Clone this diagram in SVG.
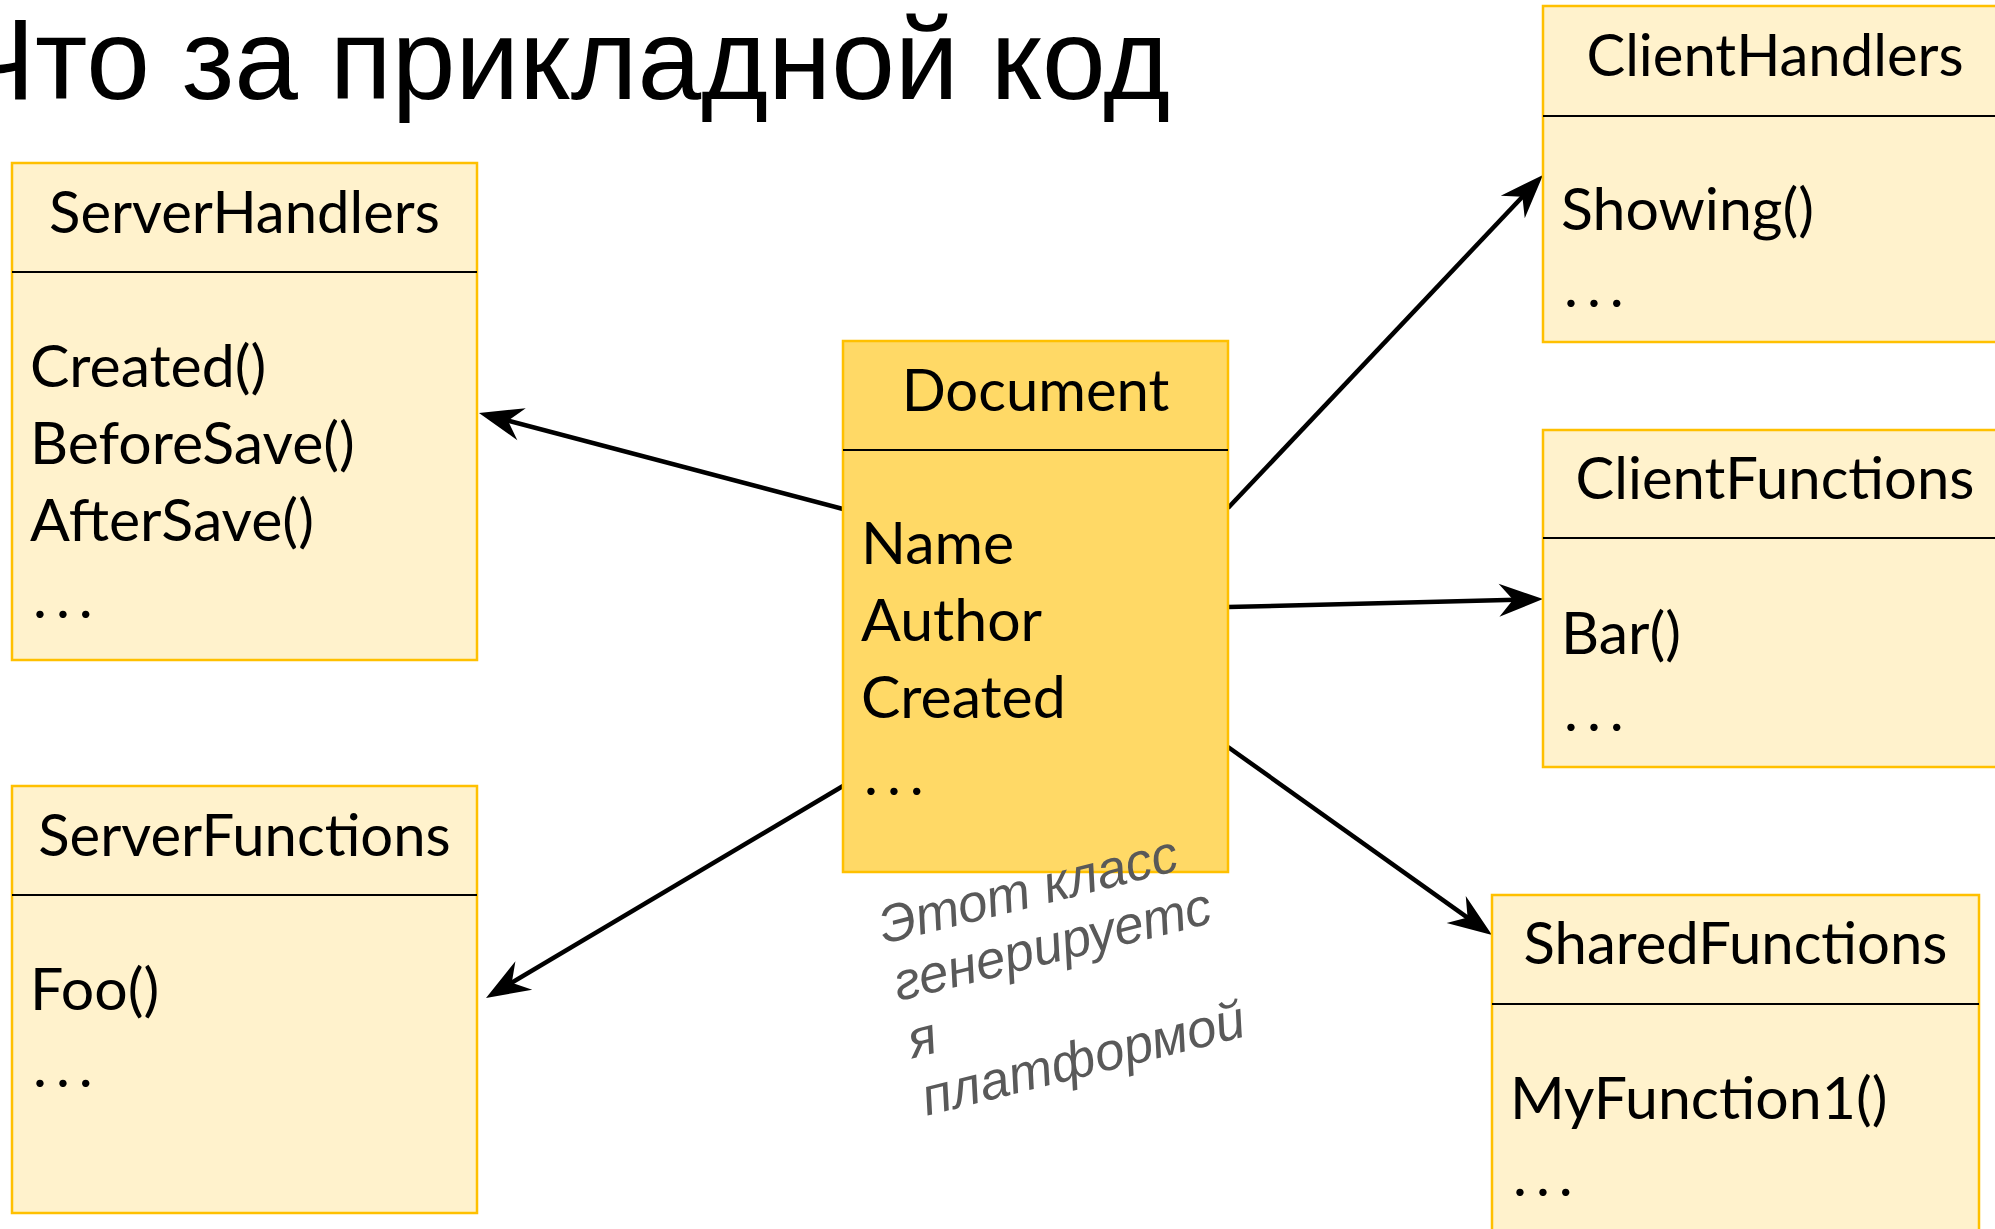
<svg xmlns="http://www.w3.org/2000/svg" width="1995" height="1229" viewBox="0 0 1995 1229">
<style>
.box{fill:#FFF2CC;stroke:#FFC000;stroke-width:2.5}
.doc{fill:#FFD966}
.sep{stroke:#000;stroke-width:2}
.t{font-family:Lato,"Open Sans",sans-serif;font-size:59px;fill:#000}
.h{text-anchor:middle;font-size:58px}
.d{letter-spacing:9px}
.conn{stroke:#000;stroke-width:4.5;fill:none;marker-end:url(#arr)}
.title{font-family:"Liberation Sans",Arial,sans-serif;font-size:114.5px;fill:#000}
.note{font-family:"Liberation Sans",Arial,sans-serif;font-size:53px;font-style:italic;fill:#595959}
</style>
<defs>
<marker id="arr" markerUnits="userSpaceOnUse" markerWidth="60" markerHeight="40" refX="0" refY="0" orient="auto" overflow="visible">
<path d="M15,0 L-29,-16.5 L-15,0 L-29,16.5 Z" fill="#000"/>
</marker>
</defs>
<rect width="1995" height="1229" fill="#fff"/>
<text class="title" x="1170" y="99" text-anchor="end">Что за прикладной код</text>

<g id="connectors">
<line class="conn" x1="843" y1="509" x2="493.5" y2="416.8"/>
<line class="conn" x1="843" y1="786" x2="498.9" y2="990.3"/>
<line class="conn" x1="1228" y1="508" x2="1532.7" y2="185.9"/>
<line class="conn" x1="1228" y1="607" x2="1528" y2="599.4"/>
<line class="conn" x1="1228" y1="747" x2="1479.8" y2="926.3"/>
</g>

<g id="ServerHandlers">
<rect class="box" x="12" y="163" width="465" height="497"/>
<line class="sep" x1="12" y1="272" x2="477" y2="272"/>
<text class="t h" x="244.5" y="233">ServerHandlers</text>
<text class="t" x="30" y="387">Created()</text>
<text class="t" x="30" y="464">BeforeSave()</text>
<text class="t" x="30" y="541">AfterSave()</text>
<text class="t d" x="33" y="618">...</text>
</g>

<g id="ServerFunctions">
<rect class="box" x="12" y="786" width="465" height="427"/>
<line class="sep" x1="12" y1="895" x2="477" y2="895"/>
<text class="t h" x="244.5" y="856">ServerFunctions</text>
<text class="t" x="30" y="1010">Foo()</text>
<text class="t d" x="33" y="1087">...</text>
</g>

<g id="Document">
<rect class="box doc" x="843" y="341" width="385" height="531"/>
<line class="sep" x1="843" y1="450" x2="1228" y2="450"/>
<text class="t h" x="1035.5" y="411">Document</text>
<text class="t" x="861" y="564">Name</text>
<text class="t" x="861" y="641">Author</text>
<text class="t" x="861" y="718">Created</text>
<text class="t d" x="864" y="795">...</text>
</g>

<g id="ClientHandlers">
<rect class="box" x="1543" y="6" width="464" height="336"/>
<line class="sep" x1="1543" y1="116" x2="2007" y2="116"/>
<text class="t h" x="1775" y="76">ClientHandlers</text>
<text class="t" x="1561" y="230">Showing()</text>
<text class="t d" x="1564" y="307">...</text>
</g>

<g id="ClientFunctions">
<rect class="box" x="1543" y="430" width="464" height="337"/>
<line class="sep" x1="1543" y1="538" x2="2007" y2="538"/>
<text class="t h" x="1775" y="499">ClientFunctions</text>
<text class="t" x="1561" y="654">Bar()</text>
<text class="t d" x="1564" y="731">...</text>
</g>

<g id="SharedFunctions">
<rect class="box" x="1492" y="895" width="487" height="350"/>
<line class="sep" x1="1492" y1="1004" x2="1979" y2="1004"/>
<text class="t h" x="1735.5" y="964">SharedFunctions</text>
<text class="t" x="1510" y="1119">MyFunction1()</text>
<text class="t d" x="1513" y="1196">...</text>
</g>

<g id="note">
<text class="note" transform="translate(884,944) rotate(-14)"><tspan x="0" y="0">Этот класс</tspan><tspan x="0" y="59">генерируетс</tspan><tspan x="0" y="118">я</tspan><tspan x="0" y="177">платформой</tspan></text>
</g>
</svg>
